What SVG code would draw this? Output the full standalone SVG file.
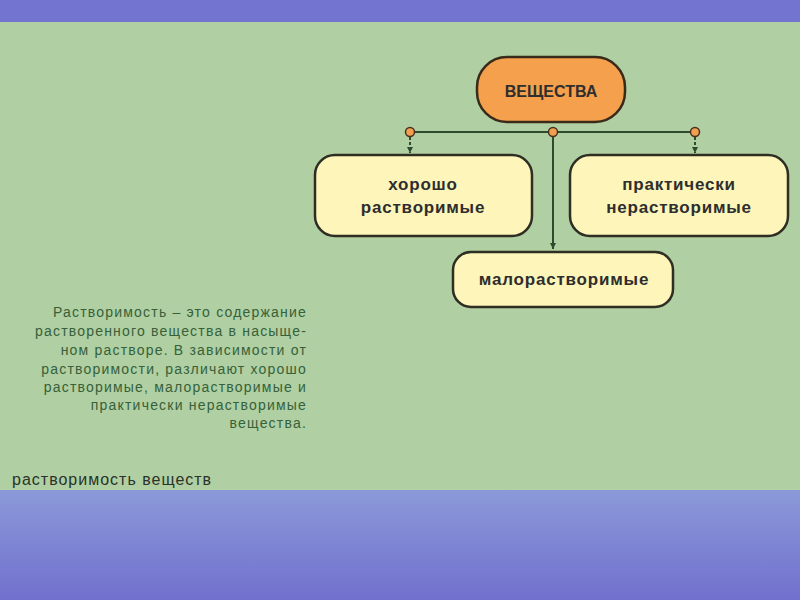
<svg xmlns="http://www.w3.org/2000/svg" width="800" height="600" viewBox="0 0 800 600">
<defs>
<linearGradient id="bot" x1="0" y1="0" x2="0" y2="1">
<stop offset="0" stop-color="#8b99d9"/>
<stop offset="1" stop-color="#7170cd"/>
</linearGradient>
<marker id="arr" markerWidth="6" markerHeight="6" refX="6" refY="3" orient="auto" markerUnits="userSpaceOnUse"><path d="M0,0 L6,3 L0,6 Z" fill="#2f4a2f"/></marker>
<style>
.box{fill:#fdf5b9;stroke:#2e2e22;stroke-width:2.5}
.root{fill:#f4a04c;stroke:#3a2a1a;stroke-width:2.5}
.lbl{font-family:"Liberation Sans",Arial,sans-serif;font-size:17px;font-weight:bold;fill:#2e2e2e;text-anchor:middle;letter-spacing:0.8px}
.para{font-family:"Liberation Sans",Arial,sans-serif;font-size:14px;fill:#36613a;text-anchor:end;letter-spacing:1.2px}
.ln{stroke:#2f4a2f;stroke-width:2;fill:none}
.dot{fill:#f0a050;stroke:#4a3020;stroke-width:1.5}
</style>
</defs>
<rect x="0" y="0" width="800" height="600" fill="#b0cfa2"/>
<rect x="0" y="0" width="800" height="22" fill="#7374cf"/>
<rect x="0" y="490" width="800" height="110" fill="url(#bot)"/>
<g id="connectors">
<line class="ln" x1="410" y1="132" x2="695" y2="132"/>
<line class="ln" x1="410" y1="132" x2="410" y2="153" stroke-dasharray="3,2" marker-end="url(#arr)" stroke-width="1.5"/>
<line class="ln" x1="695" y1="132" x2="695" y2="153" stroke-dasharray="3,2" marker-end="url(#arr)" stroke-width="1.5"/>
<line class="ln" x1="553" y1="132" x2="553" y2="249" marker-end="url(#arr)" stroke-width="1.5"/>
<circle class="dot" cx="410" cy="132" r="4.5"/>
<circle class="dot" cx="553" cy="132" r="4.5"/>
<circle class="dot" cx="695" cy="132" r="4.5"/>
</g>
<g id="root">
<rect class="root" x="477" y="57" width="148" height="65" rx="30"/>
<text class="lbl" x="551" y="97" style="font-size:16px;letter-spacing:0">ВЕЩЕСТВА</text>
</g>
<g id="good">
<rect class="box" x="315" y="155" width="217" height="81" rx="20"/>
<text class="lbl" x="423" y="190">хорошо</text>
<text class="lbl" x="423" y="213">растворимые</text>
</g>
<g id="insoluble">
<rect class="box" x="570" y="155" width="218" height="81" rx="20"/>
<text class="lbl" x="679" y="190">практически</text>
<text class="lbl" x="679" y="213">нерастворимые</text>
</g>
<g id="slight">
<rect class="box" x="453" y="252" width="220" height="55" rx="18"/>
<text class="lbl" x="564" y="285">малорастворимые</text>
</g>
<g id="description">
<text class="para" x="307" y="317">Растворимость – это содержание</text>
<text class="para" x="307" y="336">растворенного вещества в насыще-</text>
<text class="para" x="307" y="355">ном растворе. В зависимости от</text>
<text class="para" x="307" y="374">растворимости, различают хорошо</text>
<text class="para" x="307" y="392">растворимые, малорастворимые и</text>
<text class="para" x="307" y="410">практически нерастворимые</text>
<text class="para" x="307" y="428">вещества.</text>
</g>
<text x="12" y="485" font-family="Liberation Sans, Arial, sans-serif" font-size="16" letter-spacing="1" fill="#2a332a">растворимость веществ</text>
</svg>
